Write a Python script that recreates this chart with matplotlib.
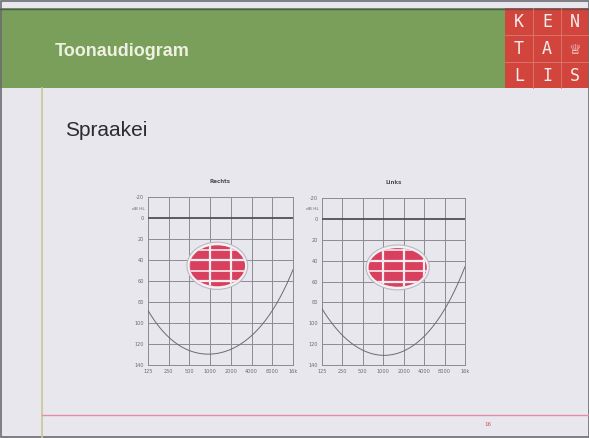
#!/usr/bin/env python3
"""
Slide: Toonaudiogram - Spraakei (speech banana on two audiograms).
"""

import numpy as np
import matplotlib
matplotlib.use("Agg")
import matplotlib.pyplot as plt
import matplotlib.transforms as mtransforms
from matplotlib.patches import Ellipse, Rectangle

W, H = 589, 438

FREQS = [125, 250, 500, 1000, 2000, 4000, 8000, 16000]
FREQ_LABELS = ["125", "250", "500", "1000", "2000", "4000", "8000", "16k"]
DB_TICKS = [-20, 0, 20, 40, 60, 80, 100, 120, 140]
DB_LABELS = ["-20", "0", "20", "40", "60", "80", "100", "120", "140"]

# upper limit curve (dB HL) per frequency
CURVE_RECHTS = [88, 114, 125, 131, 125, 111, 89, 49]
CURVE_LINKS = [86, 112, 125, 132, 125, 114, 86, 46]

# speech area: centre freq (Hz), width (octaves), centre dB, height (dB)
BLOB_RECHTS = (1270, 2.68, 45.5, 39)
BLOB_LINKS = (1630, 2.85, 46.5, 37)

BG = "#e8e7ee"
GREEN = "#7a9f5b"
RED_LOGO = "#d2453d"
BLOB_RED = "#d8405e"
GRID = "#8c8c90"


def octave(f):
    return np.log2(np.asarray(f, dtype=float) / 125.0)


def draw_audiogram(fig, box, title, curve, blob):
    left, top, right, bottom = box
    ax = fig.add_axes([left / W, 1 - bottom / H, (right - left) / W, (bottom - top) / H])
    ax.set_facecolor("none")
    x = octave(FREQS)
    ax.set_xlim(x[0], x[-1])
    ax.set_ylim(140, -20)

    # grid
    for xv in x:
        ax.axvline(xv, color=GRID, lw=0.7, zorder=1)
    for yv in DB_TICKS[2:]:
        ax.axhline(yv, color=GRID, lw=0.7, zorder=1)
    ax.axhline(0, color="#505055", lw=1.3, zorder=4)

    # speech area
    fc, wd, dbc, ht = blob
    xc = float(octave(fc))
    ax.add_patch(Ellipse((xc, dbc), wd + 0.25, ht + 6, facecolor="#f1f0f4",
                         edgecolor="#b9b9c0", lw=0.8, zorder=2))
    red = Ellipse((xc, dbc), wd, ht, facecolor=BLOB_RED, edgecolor="none", zorder=2)
    ax.add_patch(red)
    for xv in x:
        ln = ax.axvline(xv, color="#f4eef2", lw=1.6, zorder=3)
        ln.set_clip_path(red)
    for yv in [30, 40, 50, 60]:
        ln = ax.axhline(yv, color="#f4eef2", lw=1.2 if yv % 20 else 1.6, zorder=3)
        ln.set_clip_path(red)

    # curve
    xs = np.linspace(x[0], x[-1], 200)
    coef = np.polyfit(x, curve, 4)
    ax.plot(xs, np.polyval(coef, xs), color="#6a6a70", lw=0.7, zorder=5)

    for s in ax.spines.values():
        s.set_color(GRID)
        s.set_linewidth(0.7)
    ax.set_xticks(x)
    ax.set_xticklabels(FREQ_LABELS)
    ax.set_yticks(DB_TICKS)
    ax.set_yticklabels(DB_LABELS)
    ax.tick_params(labelsize=3.6, colors="#6a6a70", length=0, pad=3)
    trans = mtransforms.blended_transform_factory(ax.transAxes, ax.transData)
    ax.text(-0.025, -9, "dB HL", transform=trans, fontsize=3.2,
            color="#6a6a70", ha="right", va="center")
    ax.set_title(title, fontsize=4, color="#505055", fontweight="bold", pad=10)
    return ax


def main():
    fig = plt.figure(figsize=(W / 100, H / 100), dpi=100)
    fig.patch.set_facecolor(BG)

    bg = fig.add_axes([0, 0, 1, 1])
    bg.set_xlim(0, W)
    bg.set_ylim(H, 0)
    bg.axis("off")

    # header band
    bg.add_patch(Rectangle((0, 8), 505, 80, facecolor=GREEN, edgecolor="none"))
    bg.plot([0, W], [8.5, 8.5], color="#55585a", lw=1)
    bg.text(55, 52, "Toonaudiogram", fontsize=13, color="#eef0e2",
            fontweight="bold", va="center", ha="left", family="Liberation Sans")

    # logo
    bg.add_patch(Rectangle((505, 8), 84, 80, facecolor=RED_LOGO, edgecolor="none"))
    letters = [["K", "E", "N"], ["T", "A", "\u2655"], ["L", "I", "S"]]
    for r, row in enumerate(letters):
        for c, ch in enumerate(row):
            bg.text(519 + c * 28, 22 + r * 27, ch, fontsize=12 if ch != "\u2655" else 13,
                    color="#f6eeee", ha="center", va="center", family="DejaVu Sans Mono")
    for k in range(1, 3):
        bg.plot([505 + k * 28, 505 + k * 28], [8, 88], color="#e07870", lw=0.6)
        bg.plot([505, 589], [8 + k * 27, 8 + k * 27], color="#e07870", lw=0.6)

    # slide lines
    bg.plot([42, 42], [88, H], color="#c6c98e", lw=1.2)
    bg.plot([42, W], [415, 415], color="#e38ea4", lw=1)
    bg.text(488, 424, "16", fontsize=4, color="#d24a5a", ha="center", va="center")
    bg.add_patch(Rectangle((0.5, 0.5), W - 1, H - 1.5, facecolor="none",
                           edgecolor="#6c6c70", lw=1.2))

    bg.text(65, 130, "Spraakei", fontsize=15, color="#2c2c30", ha="left",
            va="center", family="Liberation Sans")

    draw_audiogram(fig, (148, 197, 293, 365), "Rechts", CURVE_RECHTS, BLOB_RECHTS)
    draw_audiogram(fig, (322, 198, 465, 365), "Links", CURVE_LINKS, BLOB_LINKS)

    fig.savefig("out.png", dpi=100, facecolor=BG)
    plt.close(fig)


if __name__ == "__main__":
    main()
